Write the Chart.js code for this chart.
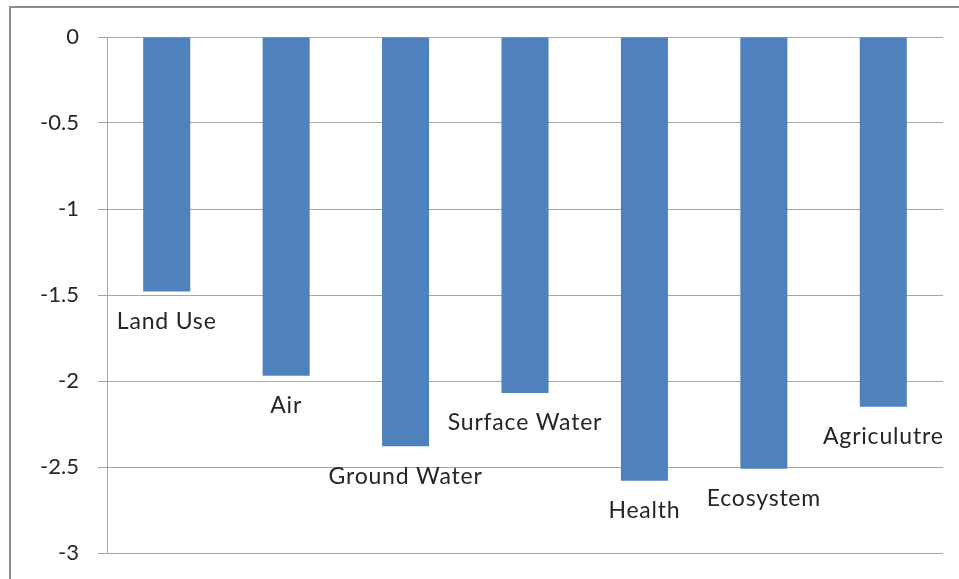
<!DOCTYPE html>
<html>
<head>
<meta charset="utf-8">
<script src="https://cdn.jsdelivr.net/npm/chart.js@4/dist/chart.umd.min.js"></script>
<style>
  html, body { margin: 0; padding: 0; background: #ffffff; }
  #wrap { position: relative; width: 959px; height: 579px; overflow: hidden; }
  #frame {
    position: absolute; left: 9px; top: 6px; width: 980px; height: 600px;
    border-left: 2px solid #8c8c8c; border-top: 2px solid #8c8c8c;
    box-sizing: border-box; pointer-events: none;
  }
  canvas { position: absolute; left: 0; top: 0; }
</style>
</head>
<body>
<div id="wrap">
  <div id="frame"></div>
  <canvas id="chart" width="959" height="579"></canvas>
</div>
<script>
// Impact categories and their scores
const categories = ['Land Use', 'Air', 'Ground Water', 'Surface Water', 'Health', 'Ecosystem', 'Agriculutre'];
const scores = [-1.48, -1.97, -2.38, -2.07, -2.58, -2.51, -2.15];
const tickValues = [0, -0.5, -1, -1.5, -2, -2.5, -3];

const FONT = 'Lato, "Open Sans", sans-serif';

// Writes each category name just beyond the end of its bar
const barNameLabels = {
  id: 'barNameLabels',
  afterDatasetsDraw(chart) {
    const ctx = chart.ctx;
    const meta = chart.getDatasetMeta(0);
    ctx.save();
    ctx.font = '23px ' + FONT;
    if ('letterSpacing' in ctx) ctx.letterSpacing = '0.8px';
    ctx.fillStyle = '#262626';
    ctx.textAlign = 'center';
    ctx.textBaseline = 'middle';
    meta.data.forEach((bar, i) => {
      ctx.fillText(categories[i], bar.x, bar.y + 30);
    });
    ctx.restore();
  }
};

new Chart(document.getElementById('chart'), {
  type: 'bar',
  data: {
    labels: categories,
    datasets: [{
      data: scores,
      backgroundColor: '#4F81BD',
      borderWidth: 0,
      barPercentage: 0.394,
      categoryPercentage: 1.0
    }]
  },
  options: {
    responsive: false,
    animation: false,
    events: [],
    layout: { padding: { top: 37, right: 16, bottom: 26, left: 0 } },
    plugins: { legend: { display: false }, tooltip: { enabled: false } },
    scales: {
      x: {
        display: false
      },
      y: {
        min: -3,
        max: 0,
        afterFit(scale) {
          scale.width = 107;
          // the label gap is horizontal only; keep it out of the vertical edge room
          scale.paddingTop = 14;
          scale.paddingBottom = 14;
        },
        afterBuildTicks(scale) { scale.ticks = tickValues.map(v => ({ value: v })); },
        border: { display: true, color: '#a6a6a6', width: 1 },
        grid: {
          color: '#a6a6a6',
          lineWidth: 1,
          drawTicks: true,
          tickLength: 9,
          tickColor: '#a6a6a6'
        },
        ticks: {
          padding: 19,
          color: '#262626',
          font: { family: FONT, size: 22 },
          callback: v => String(v)
        }
      }
    }
  },
  plugins: [barNameLabels]
});
</script>
</body>
</html>
